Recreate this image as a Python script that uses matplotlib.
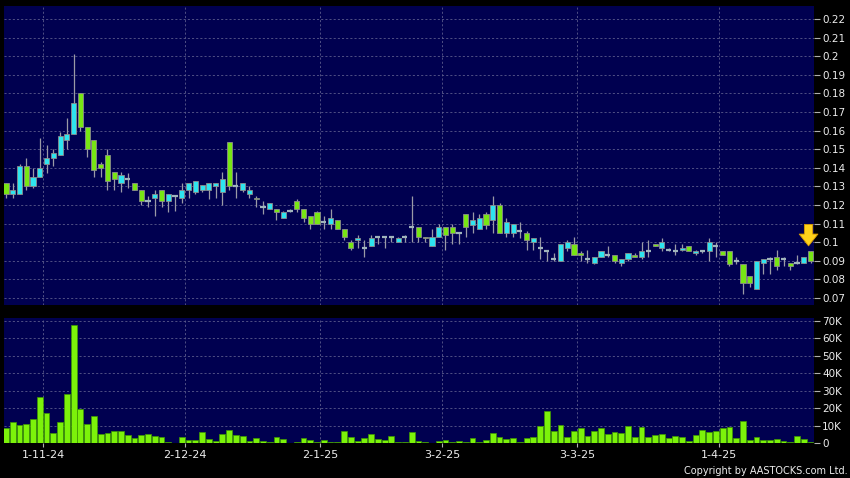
import matplotlib
matplotlib.use("Agg")
from matplotlib import pyplot as plt

# daily prices, one entry per trading day (index 0 .. 119)
opens = [0.132, 0.126, 0.126, 0.141, 0.130, 0.135, 0.142, 0.145, 0.147, 0.155,
         0.158, 0.180, 0.162, 0.155, 0.142, 0.147, 0.138, 0.132, 0.134, 0.132,
         0.128, 0.122, 0.124, 0.128, 0.122, 0.125, 0.124, 0.128, 0.127, 0.128,
         0.128, 0.130, 0.127, 0.154, 0.130, 0.128, 0.126, 0.124, 0.119, 0.118,
         0.118, 0.113, 0.117, 0.122, 0.118, 0.114, 0.116, 0.111, 0.110, 0.112,
         0.107, 0.100, 0.101, 0.097, 0.098, 0.103, 0.103, 0.103, 0.100, 0.103,
         0.108, 0.108, 0.103, 0.098, 0.103, 0.108, 0.108, 0.105, 0.115, 0.109,
         0.107, 0.115, 0.112, 0.120, 0.105, 0.105, 0.106, 0.105, 0.100, 0.097,
         0.095, 0.091, 0.090, 0.097, 0.099, 0.094, 0.091, 0.089, 0.092, 0.093,
         0.093, 0.089, 0.091, 0.093, 0.092, 0.095, 0.099, 0.097, 0.096, 0.095,
         0.096, 0.098, 0.094, 0.095, 0.095, 0.098, 0.095, 0.095, 0.090, 0.088,
         0.082, 0.075, 0.089, 0.091, 0.092, 0.091, 0.089, 0.089, 0.089, 0.095]
closes = [0.126, 0.128, 0.141, 0.130, 0.135, 0.140, 0.145, 0.148, 0.157, 0.158,
          0.175, 0.162, 0.150, 0.139, 0.140, 0.133, 0.134, 0.136, 0.134, 0.128,
          0.122, 0.122, 0.126, 0.122, 0.126, 0.125, 0.128, 0.132, 0.133, 0.131,
          0.132, 0.132, 0.134, 0.130, 0.130, 0.132, 0.128, 0.123, 0.119, 0.121,
          0.116, 0.116, 0.117, 0.118, 0.113, 0.110, 0.110, 0.111, 0.113, 0.107,
          0.103, 0.097, 0.102, 0.097, 0.102, 0.103, 0.103, 0.103, 0.102, 0.103,
          0.108, 0.103, 0.102, 0.103, 0.108, 0.104, 0.105, 0.105, 0.108, 0.112,
          0.113, 0.109, 0.120, 0.105, 0.111, 0.110, 0.106, 0.101, 0.102, 0.097,
          0.095, 0.091, 0.099, 0.100, 0.093, 0.093, 0.091, 0.092, 0.095, 0.093,
          0.090, 0.091, 0.094, 0.092, 0.095, 0.095, 0.098, 0.100, 0.096, 0.095,
          0.097, 0.095, 0.095, 0.095, 0.100, 0.098, 0.093, 0.088, 0.090, 0.078,
          0.078, 0.090, 0.091, 0.091, 0.087, 0.091, 0.087, 0.089, 0.092, 0.090]
highs = [0.132, 0.132, 0.142, 0.145, 0.140, 0.156, 0.152, 0.150, 0.159, 0.167,
         0.201, 0.180, 0.162, 0.155, 0.143, 0.150, 0.138, 0.138, 0.137, 0.132,
         0.128, 0.125, 0.128, 0.128, 0.126, 0.125, 0.132, 0.132, 0.133, 0.131,
         0.132, 0.132, 0.138, 0.154, 0.138, 0.132, 0.130, 0.125, 0.122, 0.121,
         0.118, 0.117, 0.118, 0.123, 0.118, 0.114, 0.117, 0.114, 0.118, 0.112,
         0.107, 0.101, 0.104, 0.101, 0.104, 0.103, 0.103, 0.103, 0.103, 0.104,
         0.125, 0.108, 0.103, 0.107, 0.110, 0.108, 0.110, 0.105, 0.115, 0.116,
         0.115, 0.116, 0.125, 0.121, 0.113, 0.110, 0.111, 0.106, 0.102, 0.103,
         0.096, 0.094, 0.099, 0.101, 0.103, 0.095, 0.096, 0.092, 0.095, 0.098,
         0.093, 0.091, 0.094, 0.094, 0.100, 0.101, 0.099, 0.102, 0.097, 0.099,
         0.099, 0.098, 0.096, 0.096, 0.102, 0.100, 0.095, 0.095, 0.092, 0.088,
         0.082, 0.090, 0.091, 0.092, 0.096, 0.092, 0.089, 0.093, 0.092, 0.095]
lows = [0.124, 0.124, 0.126, 0.128, 0.129, 0.135, 0.137, 0.141, 0.147, 0.150,
        0.158, 0.160, 0.146, 0.135, 0.135, 0.128, 0.128, 0.127, 0.129, 0.128,
        0.120, 0.119, 0.114, 0.119, 0.116, 0.117, 0.121, 0.124, 0.126, 0.127,
        0.123, 0.124, 0.120, 0.128, 0.124, 0.127, 0.124, 0.119, 0.115, 0.118,
        0.112, 0.113, 0.116, 0.116, 0.111, 0.107, 0.110, 0.107, 0.107, 0.107,
        0.101, 0.096, 0.097, 0.092, 0.098, 0.099, 0.097, 0.100, 0.100, 0.100,
        0.100, 0.100, 0.100, 0.098, 0.103, 0.096, 0.099, 0.099, 0.103, 0.105,
        0.107, 0.107, 0.105, 0.105, 0.103, 0.103, 0.102, 0.096, 0.096, 0.091,
        0.090, 0.090, 0.090, 0.095, 0.093, 0.090, 0.089, 0.088, 0.092, 0.092,
        0.089, 0.087, 0.090, 0.092, 0.091, 0.092, 0.098, 0.095, 0.095, 0.093,
        0.095, 0.095, 0.093, 0.094, 0.090, 0.092, 0.093, 0.087, 0.088, 0.072,
        0.076, 0.075, 0.083, 0.083, 0.085, 0.087, 0.085, 0.088, 0.089, 0.089]
# volume in thousands of shares
volumes = [8.6, 12.4, 10.5, 10.9, 13.7, 26.3, 17.1, 5.7, 12.4, 28.0,
           67.6, 19.4, 10.9, 15.6, 5.3, 5.7, 7.2, 7.2, 4.8, 3.2,
           4.8, 5.1, 4.4, 3.4, 0.8, 0.2, 3.6, 1.9, 1.9, 6.3,
           2.5, 1.5, 5.3, 7.6, 5.0, 4.4, 1.1, 2.9, 1.3, 0.6,
           3.8, 2.3, 0.2, 0.6, 3.0, 1.9, 0.6, 1.9, 0.8, 1.0,
           7.0, 3.8, 1.3, 2.9, 5.3, 2.7, 1.7, 4.2, 0.6, 0.6,
           6.7, 1.2, 0.6, 0.1, 1.3, 1.9, 1.0, 1.3, 0.8, 3.2,
           0.6, 1.7, 5.7, 3.8, 2.5, 2.9, 1.0, 3.2, 3.8, 9.9,
           18.7, 7.2, 10.7, 3.8, 7.0, 8.6, 4.4, 7.2, 8.6, 5.3,
           6.5, 6.1, 10.1, 3.6, 9.1, 3.6, 4.8, 5.1, 3.0, 4.0,
           3.4, 1.5, 4.6, 7.4, 6.5, 7.0, 9.0, 9.1, 2.9, 13.0,
           2.1, 3.4, 1.9, 1.9, 2.7, 1.1, 0.8, 4.2, 2.5, 1.0]
# first trading day of each month and its label
month_start = [5, 26, 46, 64, 84, 105]
month_labels = ["1-11-24", "2-12-24", "2-1-25", "3-2-25", "3-3-25", "1-4-25"]
price_ticks = [0.07, 0.08, 0.09, 0.1, 0.11, 0.12, 0.13, 0.14, 0.15, 0.16,
               0.17, 0.18, 0.19, 0.2, 0.21, 0.22]
vol_ticks = [0, 10, 20, 30, 40, 50, 60, 70]

navy = "#000050"
up_col = "#2ee4ef"
down_col = "#78e614"
grid_col = "#5c5c8c"
txt_col = "#ececec"

fig = plt.figure(figsize=(8.5, 4.78), dpi=100, facecolor="black")
ax = fig.add_axes([0.0047, 0.3619, 0.9529, 0.6255], facecolor=navy)
axv = fig.add_axes([0.0047, 0.0726, 0.9529, 0.2621], facecolor=navy, sharex=ax)

days = list(range(len(closes)))
grid_x = [d + 0.5 for d in month_start]

# candles
for d in days:
    o, c, h, l = opens[d], closes[d], highs[d], lows[d]
    ax.vlines(d, l, h, color="#9a9aa6", linewidth=0.9, zorder=2)
    if abs(c - o) < 0.0005:
        ax.hlines(c, d - 0.38, d + 0.38, color="#a0b4bc", linewidth=1.6, zorder=3)
    else:
        col = up_col if c > o else down_col
        ax.bar(d, abs(c - o), bottom=min(o, c), width=0.76, color=col,
               edgecolor="#8c8c8c", linewidth=0.6, zorder=3)

# yellow marker above the latest day
last = days[-1]
ax.annotate("", xy=(last - 0.3, highs[-1] + 0.003), xytext=(last - 0.3, highs[-1] + 0.0145),
            arrowprops=dict(arrowstyle="simple,head_width=1.35,head_length=0.85,tail_width=0.6",
                            fc="#ffd21a", ec="#d89a00", lw=0.6, mutation_scale=10,
                            shrinkA=0, shrinkB=0),
            zorder=5)

ax.set_ylim(0.0662, 0.2270)
ax.set_xlim(-0.3, 119.5)
ax.set_yticks(price_ticks)
ax.set_yticklabels(["{:g}".format(t) for t in price_ticks])

# volume
axv.bar(days, [v * 1000 for v in volumes], width=0.86, color="#7cf20a",
        edgecolor="#3f9a00", linewidth=0.5, zorder=3)
axv.set_ylim(0, 71600)
axv.set_yticks([t * 1000 for t in vol_ticks])
axv.set_yticklabels(["0" if t == 0 else "%dK" % t for t in vol_ticks])

for a in (ax, axv):
    for s in a.spines.values():
        s.set_visible(False)
    a.yaxis.tick_right()
    a.tick_params(axis="y", colors="#b0b0b0", labelcolor=txt_col, length=4,
                  width=0.8, pad=2, labelsize=7.5)
    a.grid(True, axis="y", color=grid_col, linestyle=(0, (2.5, 2.5)), linewidth=0.6)
    for gx in grid_x:
        a.axvline(gx, color=grid_col, linestyle=(0, (2.5, 2.5)), linewidth=0.6, zorder=1)
    a.set_axisbelow(True)

ax.tick_params(axis="x", bottom=False, labelbottom=False)
axv.set_xticks(grid_x)
axv.set_xticklabels(month_labels)
axv.tick_params(axis="x", colors="#b0b0b0", labelcolor=txt_col, length=3,
                width=0.8, pad=2, labelsize=8)

fig.text(0.997, 0.0146, "Copyright by AASTOCKS.com Ltd.", color=txt_col,
         fontsize=7, ha="right", va="center")

fig.savefig("out.png", dpi=100, facecolor="black")
